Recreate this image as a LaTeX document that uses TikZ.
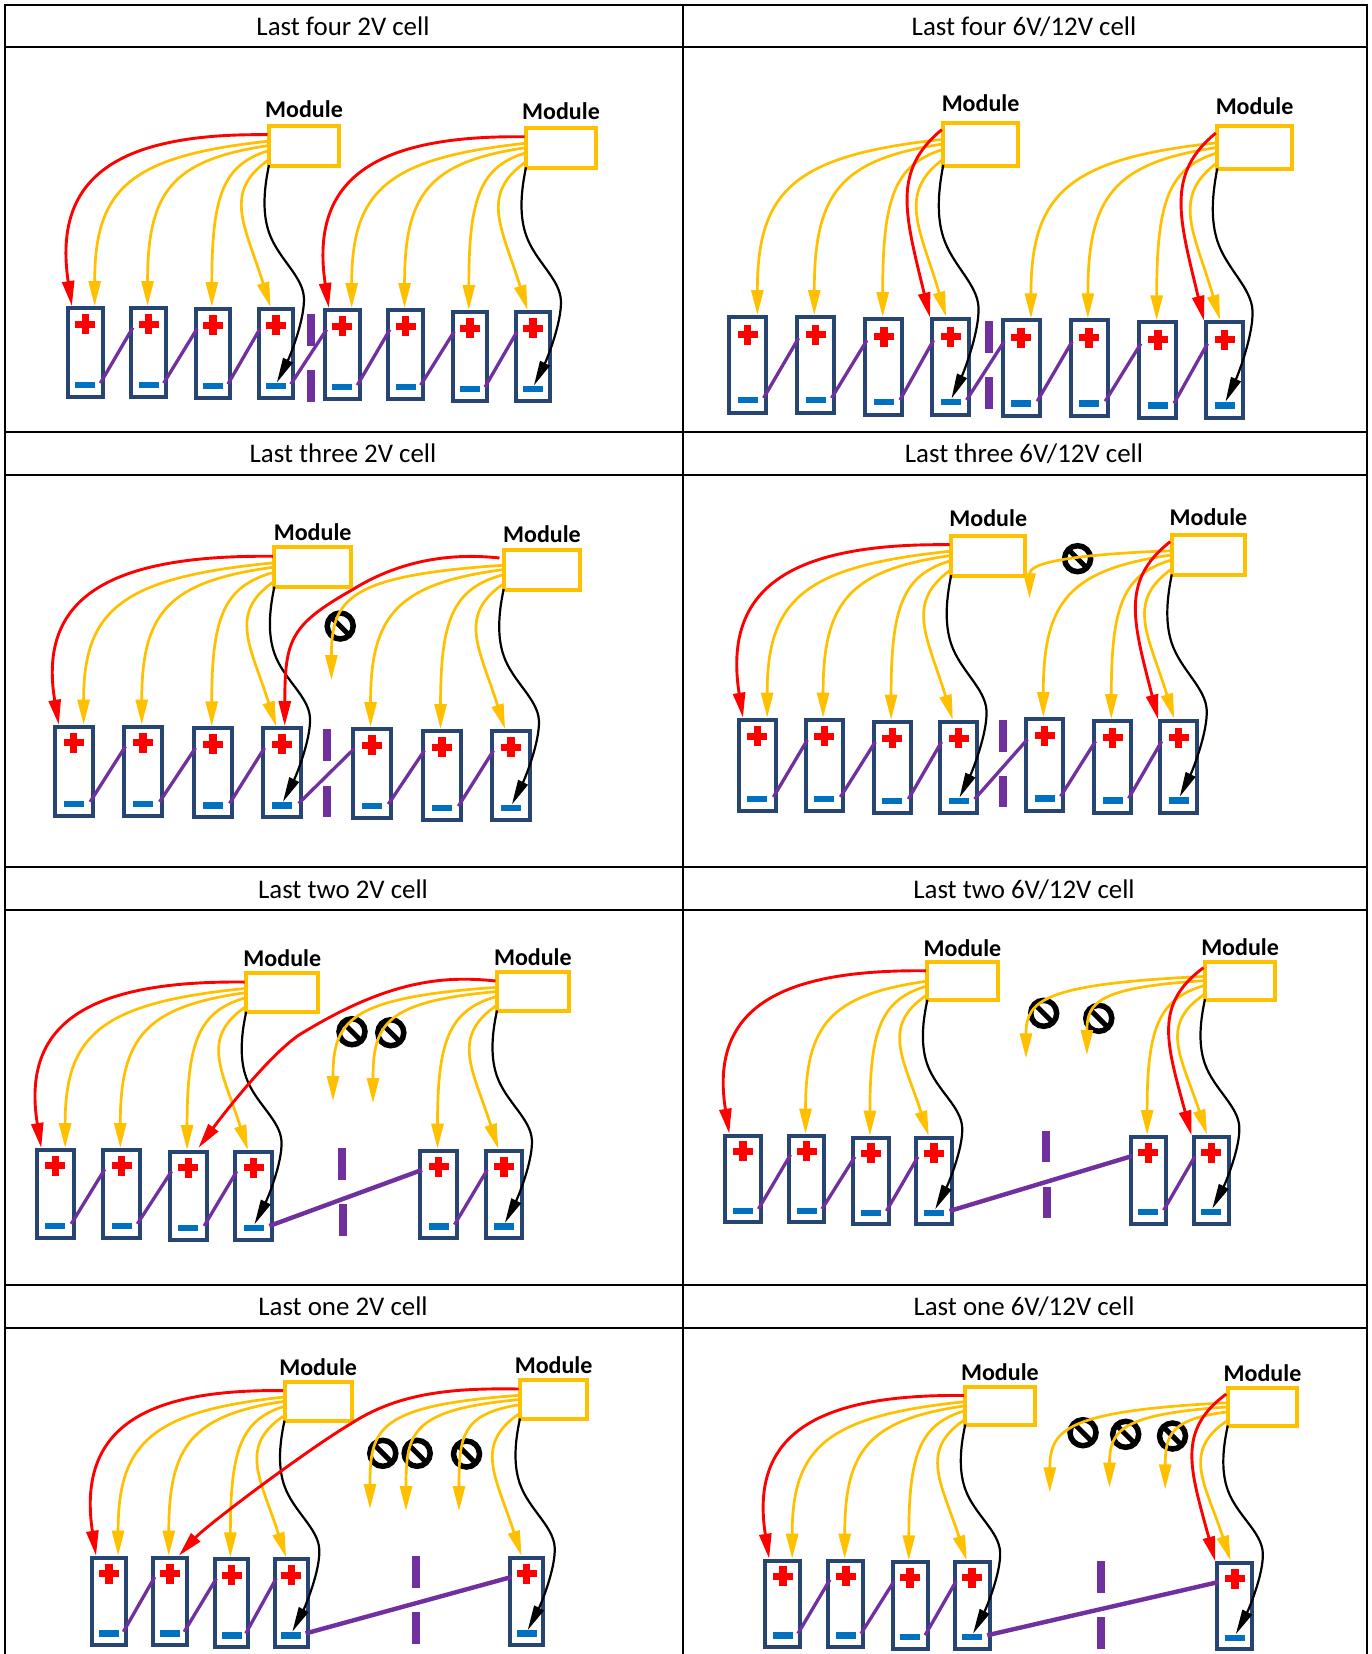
\documentclass[tikz,border=0pt]{standalone}
\usepackage{fontspec}
\setmainfont{Carlito}
\usetikzlibrary{arrows.meta,calc}
\definecolor{wyellow}{HTML}{FFC000}
\definecolor{wred}{HTML}{FF0000}
\definecolor{cellnavy}{HTML}{264573}
\definecolor{minusblue}{HTML}{0070C0}
\definecolor{lpurple}{HTML}{7030A0}
\tikzset{
  tabline/.style={line width=1.7pt,black},
  titletext/.style={font=\fontsize{26.9}{30}\selectfont,inner sep=0pt,black},
  modlabel/.style={font=\fontsize{24}{26}\selectfont\bfseries,inner sep=0pt,black},
  modshape/.style={draw=wyellow,line width=4pt,fill=white,inner sep=0pt,outer sep=0pt,rectangle},
  cellshape/.style={draw=cellnavy,line width=4pt,fill=white,inner sep=0pt,outer sep=0pt,rectangle},
  plusbar/.style={fill=wred,inner sep=0pt,outer sep=0pt,rectangle},
  minusbar/.style={fill=minusblue,inner sep=0pt,outer sep=0pt,rectangle,minimum width=20pt,minimum height=6.5pt},
  signring/.style={draw=black,line width=5.5pt,fill=white,circle,inner sep=0pt,outer sep=0pt,minimum size=26pt},
  signbar/.style={draw=black,line width=5pt},
  linkthin/.style={draw=lpurple,line width=3.3pt},
  linkthick/.style={draw=lpurple,line width=4.4pt},
  gapbar/.style={draw=lpurple,line width=8pt},
  wy/.style={draw=wyellow,line width=2.7pt,-{Triangle[length=25pt,width=12pt,color=wyellow]}},
  wr/.style={draw=wred,line width=2.9pt,-{Triangle[length=25pt,width=12pt,color=wred]}},
  wk/.style={draw=black,line width=2.2pt,-{Triangle[length=25pt,width=10.5pt,color=black]}},
}
\newcommand\cellsize[2]{\def\cellW{#1}\def\cellH{#2}}
% name, centre x, outer top y
\newcommand\cellbox[3]{%
  \node[cellshape,minimum width={(\cellW-4)*1pt},minimum height={(\cellH-4)*1pt}] (#1) at (#2,{#3+\cellH/2}) {};
  \node[plusbar,minimum width=20pt,minimum height=7pt] (#1-ph) at (#2,{#3+.195*\cellH}) {};
  \node[plusbar,minimum width=7.5pt,minimum height=20pt] (#1-pv) at (#2,{#3+.195*\cellH}) {};
  \node[minusbar] (#1-n) at (#2,{#3+.85*\cellH}) {};
  \coordinate (#1-a) at ({#2-.35*\cellW},#3);
  \coordinate (#1-b) at ({#2+.24*\cellW},#3);
  \coordinate (#1-c) at ({#2-.03*\cellW},#3);
  \coordinate (#1-d) at ({#2-.14*\cellW},#3);
  \coordinate (#1-e) at ({#2-.5*\cellW},{#3+.5});
  \coordinate (#1-f) at ({#2-.11*\cellW},{#3-.5});
  \coordinate (#1-m) at ({#2+1},{#3+.85*\cellH-3.5});
  \coordinate (#1-o) at ({#2+.5*\cellW-4.4},{#3+.83*\cellH});
  \coordinate (#1-i) at ({#2-.5*\cellW+3.5},{#3+.232*\cellH});
}
% name, left, right, top, bottom, label y
\newcommand\modbox[6]{%
  \node[modshape,minimum width={(#3-#2-4)*1pt},minimum height={(#5-#4-4)*1pt}] (#1) at ({(#2+#3)/2},{(#4+#5)/2}) {};
  \node[modlabel] (#1-label) at ({(#2+#3)/2},#6) {Module};
  \coordinate (#1-r) at ({#2+.5},{#4+.25*(#5-#4)});
  \coordinate (#1-q) at ({#2+.5},{#4+.19*(#5-#4)});
  \coordinate (#1-A) at ({#2+.5},{#4+.40*(#5-#4)});
  \coordinate (#1-B) at ({#2+.5},{#4+.50*(#5-#4)});
  \coordinate (#1-C) at ({#2+.5},{#4+.62*(#5-#4)});
  \coordinate (#1-D) at ({#2+.5},{#4+.84*(#5-#4)});
  \coordinate (#1-K) at ({#2+2},{#4+.94*(#5-#4)});
}
\newcommand\wire[4][.8]{\draw[#2] let \p1=(#3), \p2=(#4), \n1={\x2-\x1}, \n2={\y2-\y1} in
  (\p1) .. controls (\x1+#1*\n1,\y1+.09*\n2) and (\x2,\y2-.71*\n2) .. (\p2);}
\newcommand\rwire[3]{\draw[#1] let \p1=(#2), \p2=(#3), \n1={\x2-\x1}, \n2={\y2-\y1} in
  (\p1) .. controls (\x1+.76*\n1,\y1-.01*\n2) and (\x2+.1*\n1,\y2-.76*\n2) .. (\p2);}
\newcommand\swire[4][45]{\draw[#2] let \p1=(#3), \p2=(#4), \n2={\y2-\y1} in
  (\p1) .. controls (\x1-#1pt,\y1+.22*\n2) and (\x2-25pt,\y2-.55*\n2) .. (\p2);}
\newcommand\kwire[2]{\draw[wk] let \p1=(#1), \p2=(#2), \n1={\y2-\y1}, \p3=(\x1,\y1+.31*\n1), \p4=(\x2+27pt,\y2-.39*\n1) in
  (\p1) .. controls (\x1-6pt,\y1+.13*\n1) and (\x3-6pt,\y3-.08*\n1) .. (\p3)
  .. controls (\x3+9pt,\y3+.12*\n1) and (\x4-1pt,\y4-.10*\n1) .. (\p4)
  .. controls (\x4+1pt,\y4+.10*\n1) and (\x2+13pt,\y2-.12*\n1) .. (\p2);}
\newcommand\plink[2]{\draw[linkthin] (#1-o) -- (#2-i);}
\newcommand\longlink[2]{\draw[linkthick] (#1-o) -- (#2-i);}
\newcommand\nosign[3]{\node[signring] (#1) at (#2,#3) {}; \draw[signbar] (#1.north west) -- (#1.south east);}
\newcommand\fanA[5]{%
  \rwire{wr}{#1-r}{#2-a}\wire{wy}{#1-A}{#2-b}\wire{wy}{#1-B}{#3-c}\wire{wy}{#1-C}{#4-c}\swire{wy}{#1-D}{#5-d}\kwire{#1-K}{#5-m}}
\newcommand\fanB[5]{%
  \wire{wy}{#1-A}{#2-b}\wire{wy}{#1-B}{#3-c}\wire{wy}{#1-C}{#4-c}\swire[50]{wr}{#1-q}{#5-e}\swire{wy}{#1-D}{#5-f}\kwire{#1-K}{#5-m}}
\begin{document}
\begin{tikzpicture}[x=1pt,y=-1pt]
\useasboundingbox (0,0) rectangle (1372,1654);
\fill[white] (0,0) rectangle (1372,1654);
% table
\foreach \yy in {4.7,47,431.7,475,867,910,1284.7,1327.7}{\draw[tabline] (4.5,\yy) -- (1367.6,\yy);}
\foreach \xx in {5.3,683,1366.8}{\draw[tabline] (\xx,4) -- (\xx,1654);}
\node[titletext] (t1) at (343,26.5) {Last four 2V cell};
\node[titletext] (t2) at (1024,26.5) {Last four 6V/12V cell};
\node[titletext] (t3) at (343,453.5) {Last three 2V cell};
\node[titletext] (t4) at (1024,453.5) {Last three 6V/12V cell};
\node[titletext] (t5) at (343,889.5) {Last two 2V cell};
\node[titletext] (t6) at (1024,889.5) {Last two 6V/12V cell};
\node[titletext] (t7) at (343,1306.5) {Last one 2V cell};
\node[titletext] (t8) at (1024,1306.5) {Last one 6V/12V cell};

% ---------- panel 1
\cellsize{38.7}{93}
\cellbox{pa1}{85.4}{306}\cellbox{pa2}{148.7}{306}\cellbox{pa3}{213}{307}\cellbox{pa4}{275.9}{307}
\cellbox{pa5}{342.4}{308}\cellbox{pa6}{405.7}{308}\cellbox{pa7}{470}{310}\cellbox{pa8}{532.9}{310}
\plink{pa1}{pa2}\plink{pa2}{pa3}\plink{pa3}{pa4}\plink{pa4}{pa5}\plink{pa5}{pa6}\plink{pa6}{pa7}\plink{pa7}{pa8}
\draw[gapbar] (311,314) -- (311,345.7);\draw[gapbar] (311,370) -- (311,401.7);
\modbox{paM}{267}{341}{123.7}{167.7}{108.7}
\modbox{paN}{524}{598}{125.7}{170}{110.7}
\fanA{paM}{pa1}{pa2}{pa3}{pa4}
\fanA{paN}{pa5}{pa6}{pa7}{pa8}

% ---------- panel 2
\cellsize{41}{100}
\cellbox{pb1}{747.5}{315}\cellbox{pb2}{815.5}{315}\cellbox{pb3}{883.9}{317}\cellbox{pb4}{950.5}{317}
\cellbox{pb5}{1021.1}{318.3}\cellbox{pb6}{1089.1}{318.3}\cellbox{pb7}{1157.9}{320.3}\cellbox{pb8}{1224.5}{320.3}
\plink{pb1}{pb2}\plink{pb2}{pb3}\plink{pb3}{pb4}\plink{pb4}{pb5}\plink{pb5}{pb6}\plink{pb6}{pb7}\plink{pb7}{pb8}
\draw[gapbar] (988.9,321) -- (988.9,352.7);\draw[gapbar] (988.9,377) -- (988.9,408.7);
\modbox{pbM}{941.3}{1019.8}{120.7}{167.7}{102.7}
\modbox{pbN}{1215.3}{1293.8}{124}{171.3}{105.7}
\fanB{pbM}{pb1}{pb2}{pb3}{pb4}
\fanB{pbN}{pb5}{pb6}{pb7}{pb8}

% ---------- panel 3
\cellsize{42}{93}
\cellbox{pc1}{73.5}{724.7}\cellbox{pc2}{143}{724.7}\cellbox{pc3}{213}{726.3}\cellbox{pc4}{282}{726.3}
\cellbox{pc5}{371.8}{727}\cellbox{pc6}{441.8}{729}\cellbox{pc7}{510.9}{729}
\nosign{pcS}{340.2}{626}
\plink{pc1}{pc2}\plink{pc2}{pc3}\plink{pc3}{pc4}\plink{pc4}{pc5}\plink{pc5}{pc6}\plink{pc6}{pc7}
\draw[gapbar] (326.5,729.3) -- (326.5,761);\draw[gapbar] (326.5,785.7) -- (326.5,816.7);
\modbox{pcM}{272.4}{352.9}{545.3}{589.3}{531.7}
\modbox{pcN}{501.7}{582.2}{547.7}{591.7}{533.7}
\fanA{pcM}{pc1}{pc2}{pc3}{pc4}
\coordinate (pcF1) at (331.4,680);
\coordinate (pcR) at (499.5,558);
\coordinate (pcE) at (284.7,726);
\draw[wr] (pcR) .. controls (445,552) and (395,563) .. (352,590) .. controls (290,625) and (285,640) .. (pcE);
\wire[.9]{wy}{pcN-A}{pcF1}
\wire{wy}{pcN-B}{pc5-c}\wire{wy}{pcN-C}{pc6-c}\swire{wy}{pcN-D}{pc7-d}\kwire{pcN-K}{pc7-m}

% ---------- panel 4
\cellsize{41}{95.7}
\cellbox{pd1}{757.3}{717.7}\cellbox{pd2}{824.3}{717.7}\cellbox{pd3}{892.3}{719.7}\cellbox{pd4}{958.5}{719.7}
\cellbox{pd5}{1044.5}{717}\cellbox{pd6}{1112.5}{719}\cellbox{pd7}{1178.7}{719}
\nosign{pdS}{1077.6}{558.7}
\plink{pd1}{pd2}\plink{pd2}{pd3}\plink{pd3}{pd4}\plink{pd4}{pd5}\plink{pd5}{pd6}\plink{pd6}{pd7}
\draw[gapbar] (1002.6,720) -- (1002.6,751.7);\draw[gapbar] (1002.6,775.7) -- (1002.6,807.3);
\modbox{pdM}{949.2}{1027.3}{533.7}{577.7}{517.7}
\modbox{pdN}{1169.8}{1247.1}{533.3}{577}{516.7}
\fanA{pdM}{pd1}{pd2}{pd3}{pd4}
\coordinate (pdF1) at (1029.5,598.3);
\wire{wy}{pdN-A}{pdF1}
\wire{wy}{pdN-B}{pd5-c}\wire{wy}{pdN-C}{pd6-c}\swire[50]{wr}{pdN-q}{pd7-e}\swire{wy}{pdN-D}{pd7-f}\kwire{pdN-K}{pd7-m}

% ---------- panel 5
\cellsize{40.5}{91.5}
\cellbox{pe1}{55.4}{1148}\cellbox{pe2}{121.5}{1148}\cellbox{pe3}{188.3}{1150}\cellbox{pe4}{253.5}{1150}
\cellbox{pe5}{438.7}{1148.7}\cellbox{pe6}{503.9}{1148.7}
\nosign{peS}{352}{1031.7}\nosign{peT}{390.8}{1032.7}
\plink{pe1}{pe2}\plink{pe2}{pe3}\plink{pe3}{pe4}\longlink{pe4}{pe5}\plink{pe5}{pe6}
\draw[gapbar] (342.4,1148.3) -- (342.4,1180);\draw[gapbar] (343.2,1204) -- (343.2,1235.7);
\modbox{peM}{244.2}{320.4}{971.3}{1014.3}{957.7}
\modbox{peN}{495}{570.7}{970.3}{1013}{956.7}
\fanA{peM}{pe1}{pe2}{pe3}{pe4}
\coordinate (peF1) at (333,1101);
\coordinate (peF2) at (373,1103);
\coordinate (peE) at (198.5,1147.7);
\draw[wr] (peN-r) .. controls (440,975) and (385,982) .. (299,1035) .. controls (270,1055) and (228,1108) .. (peE);
\wire[.9]{wy}{peN-A}{peF1}\wire[.9]{wy}{peN-B}{peF2}
\wire{wy}{peN-C}{pe5-c}\swire{wy}{peN-D}{pe6-d}\kwire{peN-K}{pe6-m}

% ---------- panel 6
\cellsize{39.5}{90.7}
\cellbox{pf1}{743.1}{1133.7}\cellbox{pf2}{806.7}{1133.7}\cellbox{pf3}{871.1}{1135.7}\cellbox{pf4}{934.2}{1135.7}
\cellbox{pf5}{1148.3}{1135}\cellbox{pf6}{1211.3}{1135}
\nosign{pfS}{1043.7}{1013.3}\nosign{pfT}{1098.8}{1018.3}
\plink{pf1}{pf2}\plink{pf2}{pf3}\plink{pf3}{pf4}\longlink{pf4}{pf5}\plink{pf5}{pf6}
\draw[gapbar] (1045.9,1130.7) -- (1045.9,1162.3);\draw[gapbar] (1047.2,1186.7) -- (1047.2,1218.3);
\modbox{pfM}{925.4}{999.5}{960.3}{1002.3}{947.7}
\modbox{pfN}{1203}{1277.1}{959.7}{1001.7}{946.7}
\rwire{wr}{pfM-r}{pf1-a}\wire{wy}{pfM-B}{pf2-c}\wire{wy}{pfM-C}{pf3-c}\swire{wy}{pfM-D}{pf4-d}\kwire{pfM-K}{pf4-m}
\coordinate (pfF1) at (1026,1058.3);
\coordinate (pfF2) at (1086.9,1055);
\wire[.9]{wy}{pfN-A}{pfF1}\wire[.9]{wy}{pfN-B}{pfF2}
\wire{wy}{pfN-C}{pf5-c}\swire[50]{wr}{pfN-q}{pf6-e}\swire{wy}{pfN-D}{pf6-f}\kwire{pfN-K}{pf6-m}

% ---------- panel 7
\cellsize{37.4}{91.7}
\cellbox{pg1}{109.1}{1555.7}\cellbox{pg2}{169.9}{1555.7}\cellbox{pg3}{231.5}{1557.3}\cellbox{pg4}{291.3}{1557.3}
\cellbox{pg5}{526.7}{1555.7}
\nosign{pgS}{382.8}{1453.3}\nosign{pgT}{417.2}{1453.3}\nosign{pgU}{466.5}{1454}
\plink{pg1}{pg2}\plink{pg2}{pg3}\plink{pg3}{pg4}\longlink{pg4}{pg5}
\draw[gapbar] (416.3,1556) -- (416.3,1588);\draw[gapbar] (416.3,1612) -- (416.3,1644);
\modbox{pgM}{282.5}{353.8}{1379.7}{1423.3}{1366.7}
\modbox{pgN}{518}{589.2}{1378.3}{1421}{1364.7}
\fanA{pgM}{pg1}{pg2}{pg3}{pg4}
\coordinate (pgF1) at (370,1509);
\coordinate (pgF2) at (406,1511);
\coordinate (pgF3) at (459,1511);
\draw[wr] (pgN-r) .. controls (455,1388) and (400,1392) .. (352,1423) .. controls (308,1449) and (207,1525) .. (pg2-b);
\wire[.95]{wy}{pgN-A}{pgF1}\wire[.95]{wy}{pgN-B}{pgF2}\wire[.95]{wy}{pgN-C}{pgF3}
\swire{wy}{pgN-D}{pg5-d}\kwire{pgN-K}{pg5-m}

% ---------- panel 8
\cellsize{39}{90.3}
\cellbox{ph1}{782.8}{1558.7}\cellbox{ph2}{845.9}{1558.7}\cellbox{ph3}{910}{1560.3}\cellbox{ph4}{972.1}{1560.3}
\cellbox{ph5}{1234.8}{1561}
\nosign{phS}{1083}{1432.7}\nosign{phT}{1125.7}{1434.3}\nosign{phU}{1172.5}{1436}
\plink{ph1}{ph2}\plink{ph2}{ph3}\plink{ph3}{ph4}\longlink{ph4}{ph5}
\draw[gapbar] (1101,1561) -- (1101,1593.3);\draw[gapbar] (1101,1617) -- (1101,1649.3);
\modbox{phM}{963.3}{1036.5}{1385}{1427}{1372}
\modbox{phN}{1225.8}{1299.2}{1386}{1428}{1372.7}
\fanA{phM}{ph1}{ph2}{ph3}{ph4}
\coordinate (phF1) at (1049.8,1492.3);
\coordinate (phF2) at (1109.5,1487.7);
\coordinate (phF3) at (1165.2,1489.3);
\wire[.9]{wy}{phN-A}{phF1}\wire[.9]{wy}{phN-B}{phF2}\wire[.9]{wy}{phN-C}{phF3}
\swire[50]{wr}{phN-q}{ph5-e}\swire{wy}{phN-D}{ph5-f}\kwire{phN-K}{ph5-m}
\end{tikzpicture}
\end{document}
